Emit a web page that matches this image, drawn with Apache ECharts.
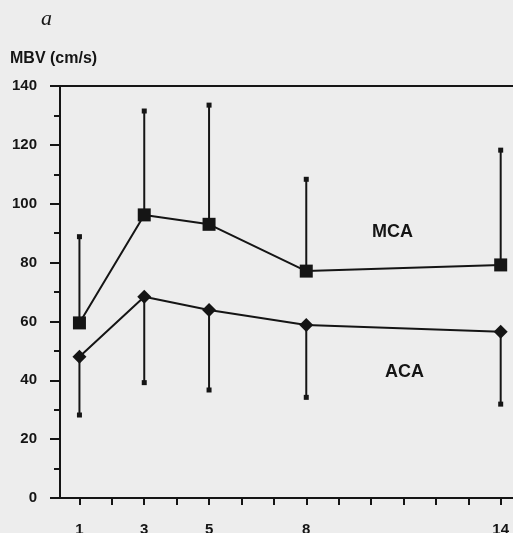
<!DOCTYPE html>
<html>
<head>
<meta charset="utf-8">
<script src="https://cdn.jsdelivr.net/npm/echarts@6/dist/echarts.min.js"></script>
<style>
html,body{margin:0;padding:0;background:#ededed;}
#chart{width:513px;height:533px;}
</style>
</head>
<body>
<div id="chart"></div>
<script>
// Data
var days = [1, 3, 5, 8, 14];
var mcaMean = [59.5, 96.2, 93.0, 77.1, 79.2];
var mcaUpper = [88.8, 131.5, 133.5, 108.3, 118.2];
var acaMean = [48.0, 68.4, 63.9, 58.8, 56.5];
var acaLower = [28.2, 39.2, 36.7, 34.2, 31.9];
var xTicks = [1, 2, 3, 4, 5, 6, 7, 8, 9, 10, 11, 12, 13, 14];
var xLabels = [1, 3, 5, 8, 14];
var yTicks = [0, 20, 40, 60, 80, 100, 120, 140];

var ink = '#151515';
var font = 'Liberation Sans, Arial, sans-serif';

function pairs(xs, ys) { return xs.map(function (x, i) { return [x, ys[i]]; }); }
function barData(xs, a, b) { return xs.map(function (x, i) { return [x, a[i], b[i]]; }); }

function errRender(params, api) {
  var p0 = api.coord([api.value(0), api.value(1)]);
  var p1 = api.coord([api.value(0), api.value(2)]);
  return {
    type: 'group',
    children: [
      { type: 'line', shape: { x1: p0[0], y1: p0[1], x2: p1[0], y2: p1[1] }, style: { stroke: ink, lineWidth: 2 } },
      { type: 'rect', shape: { x: p1[0] - 2.5, y: p1[1] - 2.5, width: 5, height: 5 }, style: { fill: ink } }
    ]
  };
}

var chart = echarts.init(document.getElementById('chart'), null, { renderer: 'canvas' });
chart.setOption({
  backgroundColor: '#ededed',
  animation: false,
  grid: { left: 60, right: 0, top: 86, bottom: 35, containLabel: false, outerBoundsMode: 'none' },
  xAxis: [{
    type: 'value', min: 0.4, max: 14.38, position: 'bottom',
    axisLine: { show: true, onZero: false, lineStyle: { color: ink, width: 2 } },
    axisTick: { show: true, inside: false, length: 7, customValues: xTicks, lineStyle: { color: ink, width: 2 } },
    axisLabel: { show: true, customValues: xLabels, color: ink, fontFamily: font, fontSize: 15, fontWeight: 'bold', margin: 24 },
    splitLine: { show: false }
  }, {
    type: 'value', min: 0.4, max: 14.38, position: 'top',
    axisLine: { show: true, onZero: false, lineStyle: { color: ink, width: 2 } },
    axisTick: { show: false }, axisLabel: { show: false }, splitLine: { show: false }
  }],
  yAxis: {
    type: 'value', min: 0, max: 140, interval: 20,
    axisLine: { show: true, onZero: false, lineStyle: { color: ink, width: 2 } },
    axisTick: { show: true, length: 10, lineStyle: { color: ink, width: 2 } },
    minorTick: { show: true, splitNumber: 2, length: 6, lineStyle: { color: ink, width: 2 } },
    axisLabel: { color: ink, fontFamily: font, fontSize: 15, fontWeight: 'bold', margin: 23,
      formatter: function (v) { return yTicks.indexOf(v) >= 0 ? String(v) : ''; } },
    splitLine: { show: false }
  },
  graphic: [
    { type: 'text', style: { x: 41, y: 19, text: 'a', textVerticalAlign: 'middle', font: 'italic 22px "Liberation Serif", "Times New Roman", serif', fill: ink } },
    { type: 'text', style: { x: 10, y: 59, text: 'MBV (cm/s)', textVerticalAlign: 'middle', font: 'bold 16px ' + font, fill: ink } },
    { type: 'text', style: { x: 372, y: 232, text: 'MCA', textVerticalAlign: 'middle', font: 'bold 18px ' + font, fill: ink } },
    { type: 'text', style: { x: 385, y: 372, text: 'ACA', textVerticalAlign: 'middle', font: 'bold 18px ' + font, fill: ink } }
  ],
  series: [
    { type: 'custom', name: 'MCA SD', renderItem: errRender, data: barData(days, mcaMean, mcaUpper), z: 1, clip: false },
    { type: 'custom', name: 'ACA SD', renderItem: errRender, data: barData(days, acaMean, acaLower), z: 1, clip: false },
    { type: 'line', name: 'MCA', data: pairs(days, mcaMean), symbol: 'rect', symbolSize: 13,
      lineStyle: { color: ink, width: 2 }, itemStyle: { color: ink }, z: 3 },
    { type: 'line', name: 'ACA', data: pairs(days, acaMean), symbol: 'diamond', symbolSize: 14,
      lineStyle: { color: ink, width: 2 }, itemStyle: { color: ink }, z: 3 }
  ]
});
</script>
</body>
</html>
